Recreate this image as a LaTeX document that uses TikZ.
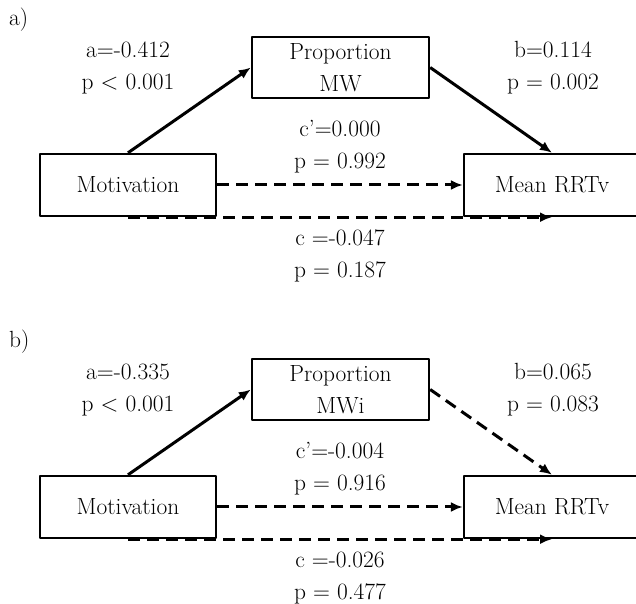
\documentclass[tikz,border=0pt]{standalone}
\usetikzlibrary{arrows.meta}
\tikzset{
  varbox/.style={draw,line width=2.4bp,minimum width=176bp,minimum height=62bp,inner sep=0bp,align=center},
  coef/.style={draw=none,inner sep=0bp,align=center},
  path/.style={black,line width=3bp,->},
  npath/.style={path,dash pattern=on 12bp off 7bp},
}
\begin{document}
\begin{tikzpicture}[>={Latex[length=12bp,width=10bp]},line join=bevel,font=\fontsize{23.5}{32}\selectfont]
\useasboundingbox (0bp,0bp) rectangle (636bp,604bp);
%% a)
\node (lbl_a) at (9bp,584bp) [coef,anchor=west] {a)};
  \node (prop_a) at (340.5bp,536.5bp) [varbox,minimum width=177bp,minimum height=61bp] {Proportion\\MW};
  \node (motiv_a) at (128bp,419bp) [varbox] {Motivation};
  \node (mean_a) at (552bp,419bp) [varbox] {Mean RRTv};
  \node (coef_a_a) at (128bp,536bp) [coef] {a=-0.412\\p < 0.001};
  \node (coef_a_b) at (553bp,536bp) [coef] {b=0.114\\p = 0.002};
  \node (coef_a_cp) at (340bp,457bp) [coef] {c’=0.000\\p = 0.992};
  \node (coef_a_c) at (340bp,348bp) [coef] {c =-0.047\\p = 0.187};
  \draw [path] (motiv_a.north) -- (prop_a.west);
  \draw [path] (prop_a.east) -- (mean_a.north);
  \draw [npath] (motiv_a.east) -- (mean_a.west);
  \draw [npath] (motiv_a.south) -- (mean_a.south);
%% b)
\node (lbl_b) at (9bp,262bp) [coef,anchor=west] {b)};
  \node (prop_b) at (340.5bp,214.5bp) [varbox,minimum width=177bp,minimum height=61bp] {Proportion\\MWi};
  \node (motiv_b) at (128bp,97bp) [varbox] {Motivation};
  \node (mean_b) at (552bp,97bp) [varbox] {Mean RRTv};
  \node (coef_b_a) at (128bp,214bp) [coef] {a=-0.335\\p < 0.001};
  \node (coef_b_b) at (553bp,214bp) [coef] {b=0.065\\p = 0.083};
  \node (coef_b_cp) at (340bp,135bp) [coef] {c’=-0.004\\p = 0.916};
  \node (coef_b_c) at (340bp,26bp) [coef] {c =-0.026\\p = 0.477};
  \draw [path] (motiv_b.north) -- (prop_b.west);
  \draw [npath] (prop_b.east) -- (mean_b.north);
  \draw [npath] (motiv_b.east) -- (mean_b.west);
  \draw [npath] (motiv_b.south) -- (mean_b.south);
%
\end{tikzpicture}
\end{document}
